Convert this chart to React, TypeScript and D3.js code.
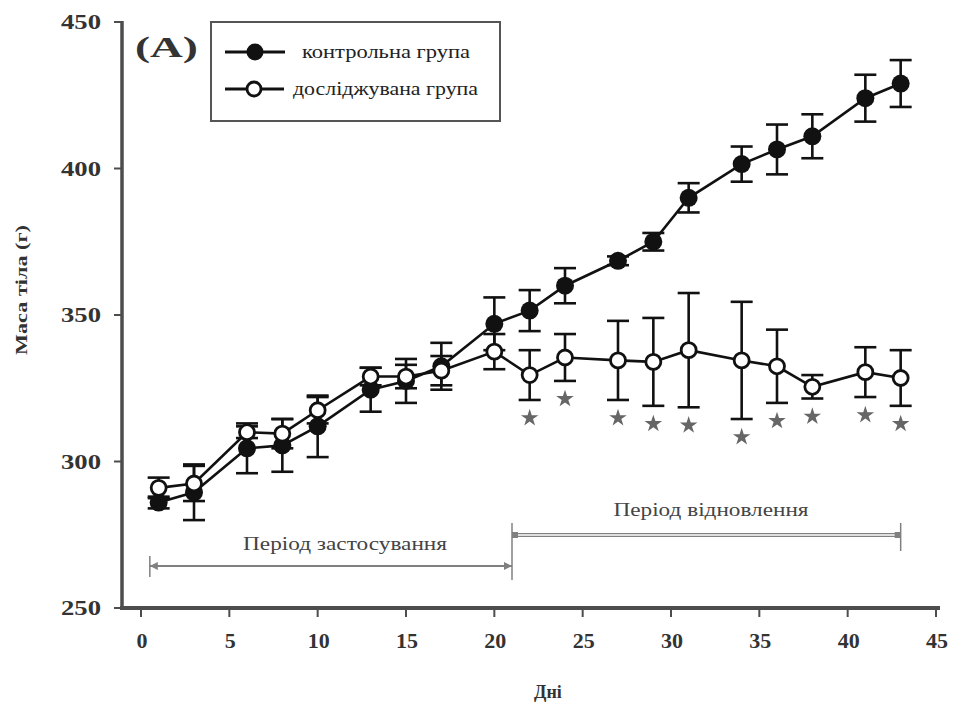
import React from "react";
import * as d3 from "d3";

const days = [1, 3, 6, 8, 10, 13, 15, 17, 20, 22, 24, 27, 29, 31, 34, 36, 38, 41, 43];
const controlMean = [286, 289.5, 304.5, 305.5, 312, 324.5, 327.5, 332.5, 347, 351.5, 360, 368.5, 375, 390, 401.5, 406.5, 411, 424, 429];
const controlErr = [2, 9.5, 8.5, 9, 10.5, 7.5, 7.5, 8, 9, 7, 6, 1.5, 3, 5, 6, 8.5, 7.5, 8, 8];
const testMean = [291, 292.5, 310, 309.5, 317.5, 329, 329, 331, 337.5, 329.5, 335.5, 334.5, 334, 338, 334.5, 332.5, 325.5, 330.5, 328.5];
const testErr = [3.5, 6, 2, 5, 4.5, 3, 4, 5, 6, 8.5, 8, 13.5, 15, 19.5, 20, 12.5, 4, 8.5, 9.5];
const significantDays = [22, 24, 27, 29, 31, 34, 36, 38, 41, 43];

const xTicks = [0, 5, 10, 15, 20, 25, 30, 35, 40, 45];
const yTicks = [250, 300, 350, 400, 450];

const seriesNames = ["контрольна група", "досліджувана група"];
const periodLabels = ["Період застосування", "Період відновлення"];
const periodStarts = [0.5, 21];
const periodEnds = [21, 43];

const panelLabel = "(A)";
const xTitle = "Дні";
const yTitle = "Маса тіла (г)";

const W = 958;
const H = 706;
const FONT = "Liberation Serif, serif";

export default function App() {
  const x = d3.scaleLinear().domain([0, 45]).range([141, 936]);
  const y = d3.scaleLinear().domain([250, 450]).range([608, 22]);

  const line = d3
    .line<[number, number]>()
    .x((d) => x(d[0]))
    .y((d) => y(d[1]));

  const controlPts = days.map((d, i) => [d, controlMean[i]] as [number, number]);
  const testPts = days.map((d, i) => [d, testMean[i]] as [number, number]);

  const capW = 11;
  const axisColor = "#4d4d4d";
  const ink = "#111";
  const annot = "#808080";

  const errBars = (means: number[], errs: number[], key: string) =>
    days.map((d, i) => {
      const cx = x(d);
      const y1 = y(means[i] + errs[i]);
      const y2 = y(means[i] - errs[i]);
      return (
        <g key={key + i} stroke={ink} strokeWidth={2.6}>
          <line x1={cx} x2={cx} y1={y1} y2={y2} />
          <line x1={cx - capW} x2={cx + capW} y1={y1} y2={y1} />
          <line x1={cx - capW} x2={cx + capW} y1={y2} y2={y2} />
        </g>
      );
    });

  const star = d3.symbol().type(d3.symbolStar).size(95)() as string;

  const p1y = 566;
  const p2y = 535;

  return (
    <svg
      width={W}
      height={H}
      style={{ position: "absolute", left: 0, top: 0, background: "#fff", fontFamily: FONT }}
    >
      <rect x={0} y={0} width={W} height={H} fill="#fff" />

      {/* axes */}
      <line x1={122} x2={122} y1={y(450) - 1} y2={610} stroke={axisColor} strokeWidth={3.5} />
      <line x1={120} x2={940} y1={608} y2={608} stroke={axisColor} strokeWidth={4} />
      {yTicks.map((t) => (
        <g key={"yt" + t}>
          <line x1={114} x2={122} y1={y(t)} y2={y(t)} stroke={axisColor} strokeWidth={2} />
          <text
            x={101}
            y={y(t) + 7}
            textAnchor="end"
            fontSize={21}
            fontWeight="bold"
            fill="#333"
            textLength={40}
            lengthAdjust="spacingAndGlyphs"
          >
            {t}
          </text>
        </g>
      ))}
      {xTicks.map((t) => (
        <g key={"xt" + t}>
          <line x1={x(t)} x2={x(t)} y1={610} y2={617} stroke={axisColor} strokeWidth={2} />
          <text x={x(t) + 1} y={648} textAnchor="middle" fontSize={22} fontWeight="bold" fill="#333">
            {t}
          </text>
        </g>
      ))}

      <text
        transform={`translate(27,290) rotate(-90)`}
        textAnchor="middle"
        fontSize={16}
        fontWeight="bold"
        fill="#333"
        textLength={130}
        lengthAdjust="spacingAndGlyphs"
      >
        {yTitle}
      </text>
      <text x={548} y={698} textAnchor="middle" fontSize={18} fontWeight="bold" fill="#333">
        {xTitle}
      </text>

      <text
        x={135}
        y={57}
        fontSize={30}
        fontWeight="bold"
        fill="#333"
        textLength={63}
        lengthAdjust="spacingAndGlyphs"
      >
        {panelLabel}
      </text>

      {/* period annotations */}
      <g stroke={annot} fill="none">
        <line x1={x(periodStarts[0])} x2={x(periodStarts[0])} y1={p1y - 10} y2={p1y + 11} strokeWidth={1.5} />
        <line x1={x(periodEnds[0])} x2={x(periodEnds[0])} y1={p2y - 12} y2={p1y + 14} strokeWidth={1.5} />
        <line x1={x(periodEnds[1])} x2={x(periodEnds[1])} y1={p2y - 12} y2={p2y + 16} strokeWidth={1.5} />
        <line x1={x(periodStarts[0])} x2={x(periodEnds[0])} y1={p1y} y2={p1y} strokeWidth={1.8} />
        <line x1={x(periodStarts[1])} x2={x(periodEnds[1])} y1={p2y} y2={p2y} strokeWidth={4} />
        <line x1={x(periodStarts[1]) + 4} x2={x(periodEnds[1]) - 4} y1={p2y} y2={p2y} strokeWidth={1.4} stroke="#fff" />
      </g>
      <g fill={annot}>
        <path d={`M${x(periodStarts[0])},${p1y} l8,-4 l0,8 z`} />
        <path d={`M${x(periodEnds[0])},${p1y} l-8,-4 l0,8 z`} />
        <rect x={x(periodStarts[1])} y={p2y - 3} width={6} height={6} />
        <rect x={x(periodEnds[1]) - 6} y={p2y - 3} width={6} height={6} />
      </g>
      <text
        x={345}
        y={550}
        textAnchor="middle"
        fontSize={18}
        fill="#444"
        textLength={204}
        lengthAdjust="spacingAndGlyphs"
      >
        {periodLabels[0]}
      </text>
      <text
        x={711}
        y={516}
        textAnchor="middle"
        fontSize={18}
        fill="#444"
        textLength={195}
        lengthAdjust="spacingAndGlyphs"
      >
        {periodLabels[1]}
      </text>

      {/* series */}
      {errBars(controlMean, controlErr, "ce")}
      {errBars(testMean, testErr, "te")}
      <path d={line(controlPts) || ""} fill="none" stroke={ink} strokeWidth={2.6} />
      <path d={line(testPts) || ""} fill="none" stroke={ink} strokeWidth={2.6} />
      {controlPts.map((p, i) => (
        <circle key={"cp" + i} cx={x(p[0])} cy={y(p[1])} r={9} fill={ink} />
      ))}
      {testPts.map((p, i) => (
        <circle key={"tp" + i} cx={x(p[0])} cy={y(p[1])} r={7.5} fill="#fff" stroke={ink} strokeWidth={2.8} />
      ))}

      {/* significance stars */}
      {significantDays.map((d) => {
        const i = days.indexOf(d);
        const sy = y(testMean[i] - testErr[i]) + 18;
        return <path key={"s" + d} d={star} transform={`translate(${x(d)},${sy})`} fill="#666" />;
      })}

      {/* legend */}
      <rect x={211} y={22} width={289} height={99} fill="#fff" stroke="#555" strokeWidth={2} />
      <line x1={225} x2={285} y1={52} y2={52} stroke={ink} strokeWidth={3} />
      <circle cx={255} cy={52} r={8.5} fill={ink} />
      <text x={302} y={58} fontSize={18} fill="#222" textLength={168} lengthAdjust="spacingAndGlyphs">
        {seriesNames[0]}
      </text>
      <line x1={225} x2={284} y1={89} y2={89} stroke={ink} strokeWidth={3} />
      <circle cx={254} cy={89} r={7} fill="#fff" stroke={ink} strokeWidth={2.8} />
      <text x={293} y={95} fontSize={18} fill="#222" textLength={185} lengthAdjust="spacingAndGlyphs">
        {seriesNames[1]}
      </text>
    </svg>
  );
}
